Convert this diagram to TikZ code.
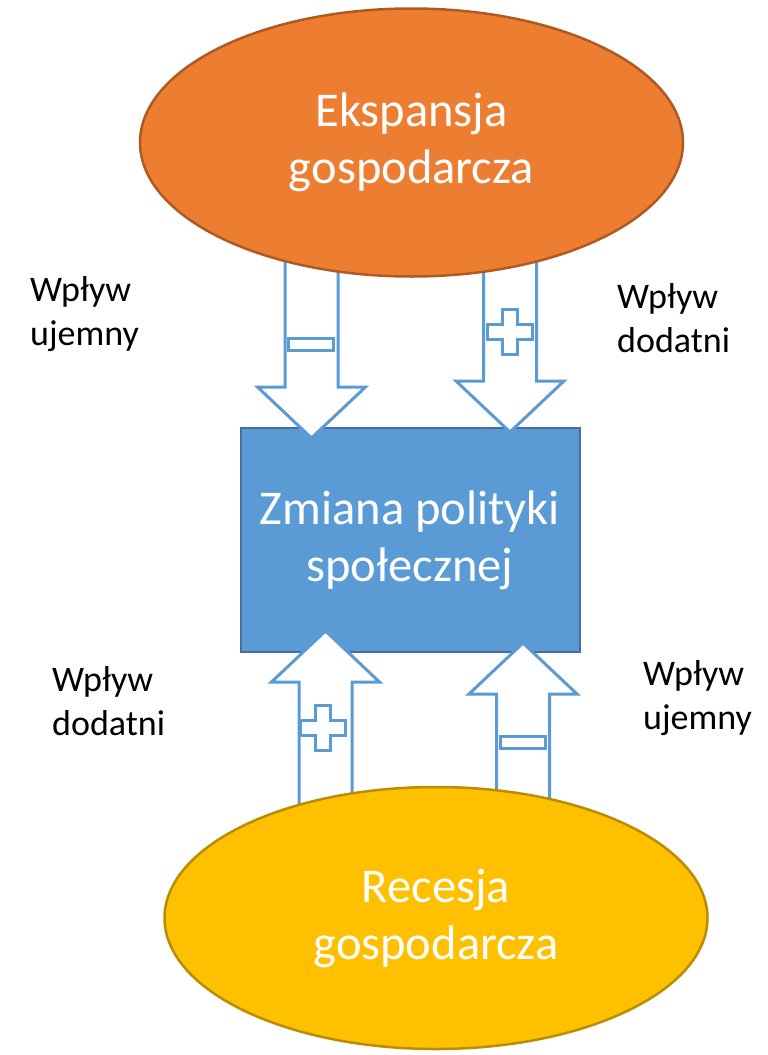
\documentclass[tikz,border=0pt]{standalone}
\usepackage{fontspec}
\setmainfont{Carlito}
\usetikzlibrary{shapes,calc}

\definecolor{pomarancz}{HTML}{ED7D31}
\definecolor{pomarancz2}{HTML}{AE5A21}
\definecolor{niebieski}{HTML}{5B9BD5}
\definecolor{niebieski2}{HTML}{41719C}
\definecolor{zloty}{HTML}{FFC000}
\definecolor{zloty2}{HTML}{BC8C00}

% block arrow from (#1) to (#2), vertical
\newcommand{\strzalka}[2]{%
  \draw[blok] let \p1=(#1), \p2=(#2), \n1={sign(\y1-\y2)} in
    (\x1-26.5pt,\y1) -- (\x1-26.5pt,{\y2+\n1*51pt}) -- (\x1-54pt,{\y2+\n1*51pt})
    -- (\x2,\y2) -- (\x1+54pt,{\y2+\n1*51pt}) -- (\x1+26.5pt,{\y2+\n1*51pt})
    -- (\x1+26.5pt,\y1) -- cycle;}
\newcommand{\znakminus}[1]{%
  \draw[blok] ($(#1)+(-22.5,-6)$) rectangle ($(#1)+(22.5,6)$);}
\newcommand{\znakplus}[1]{%
  \draw[blok,shift={(#1)}] (-7.5,-22.5) -- (7.5,-22.5) -- (7.5,-7.5) -- (22.5,-7.5)
    -- (22.5,7.5) -- (7.5,7.5) -- (7.5,22.5) -- (-7.5,22.5) -- (-7.5,7.5)
    -- (-22.5,7.5) -- (-22.5,-7.5) -- (-7.5,-7.5) -- cycle;}

\begin{document}
\begin{tikzpicture}[x=1pt,y=-1pt]
\tikzstyle{blok}=[draw=niebieski,fill=white,line width=3pt,line join=miter]
\tikzstyle{duzy}=[text=white,align=center,inner sep=0pt,font=\fontsize{48.5}{57}\selectfont]
\tikzstyle{opis}=[align=left,inner sep=0pt,anchor=base west,font=\fontsize{36}{44}\selectfont]
\fill[white] (0,0) rectangle (768,1055);
\useasboundingbox (0,0) rectangle (768,1055);

\node[duzy,draw=niebieski2,fill=niebieski,line width=2pt,rectangle,
  minimum width=339pt,minimum height=224pt] (zmiana) at (410,540)
  {Zmiana polityki\\społecznej};

% strzalki
\coordinate (s1) at (311.5,240); \coordinate (k1) at (311.5,438);
\coordinate (s2) at (510,240);   \coordinate (k2) at (510,432);
\coordinate (s3) at (325.5,840); \coordinate (k3) at (325.5,631);
\coordinate (s4) at (523,840);   \coordinate (k4) at (523,643);
\strzalka{s1}{k1} \strzalka{s2}{k2}
\strzalka{s3}{k3} \strzalka{s4}{k4}
\znakminus{310.5,344} \znakplus{510,332}
\znakplus{323,727.5}  \znakminus{522.5,742.5}

\node[duzy,ellipse,draw=pomarancz2,fill=pomarancz,line width=2.5pt,
  minimum width=543pt,minimum height=268pt] (ekspansja) at (411.5,142.5)
  {Ekspansja\\gospodarcza};
\node[duzy,ellipse,draw=zloty2,fill=zloty,line width=2.5pt,
  minimum width=543pt,minimum height=262pt] (recesja) at (436,918)
  {Recesja\\gospodarcza};

\node[opis] (opis1) at (30,345) {Wpływ\\ujemny};
\node[opis] (opis2) at (617,352) {Wpływ\\dodatni};
\node[opis] (opis3) at (52,735) {Wpływ\\dodatni};
\node[opis] (opis4) at (643,729) {Wpływ\\ujemny};
\end{tikzpicture}
\end{document}
